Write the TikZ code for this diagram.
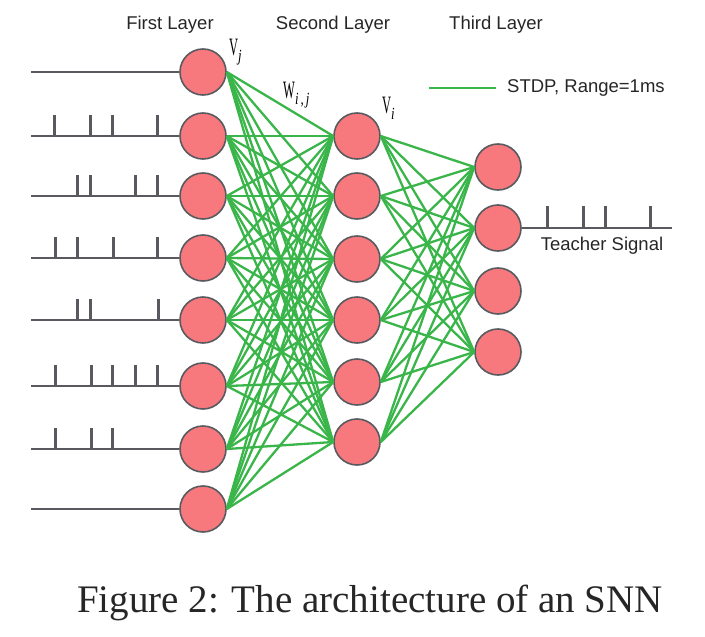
\documentclass[tikz,border=0pt]{standalone}
\usepackage{fontspec}
\setmainfont{Liberation Serif}
\setsansfont{Liberation Sans}
\usetikzlibrary{positioning}

\definecolor{cellred}{RGB}{247,121,125}
\definecolor{rim}{RGB}{88,90,96}
\definecolor{stdp}{RGB}{57,181,74}

\newcommand{\vlab}[2]{\scalebox{.5}[1]{\fontsize{25}{28}\selectfont #1}\raisebox{-6pt}{\scalebox{.75}[1]{\fontsize{17}{19}\selectfont\itshape #2}}}

\tikzset{
  neuron/.style={circle,draw=rim,fill=cellred,line width=1.6pt,minimum size=46pt,inner sep=0pt},
  syn/.style={stdp,line width=2.3pt},
  train/.style={rim,line width=2.8pt},
  lbl/.style={font=\sffamily\fontsize{18.5}{20}\selectfont,text=black!85,inner sep=1pt}
}

\begin{document}
\begin{tikzpicture}[x=1pt,y=-1pt]
    \useasboundingbox (0,0) rectangle (705,637);
    % neurons
    \foreach \y [count=\i] in {72,136,196,258,320,386,449,509}
        \node[neuron] (a\i) at (203,\y) {};
    \foreach \y [count=\i] in {136,196,259,320,382,442}
        \node[neuron] (b\i) at (357,\y) {};
    \foreach \y [count=\i] in {167,228,291,352}
        \node[neuron] (c\i) at (498,\y) {};
    % synapses
    \foreach \i in {1,...,8}
        \foreach \j in {1,...,6}
            \draw[syn] (a\i.east) -- (b\j.west);
    \foreach \i in {1,...,6}
        \foreach \j in {1,...,4}
            \draw[syn] (b\i.east) -- (c\j.west);
    % input spike trains
    \foreach \i in {1,...,8}
        \draw[train] (a\i.west) -- ++(-148,0) coordinate (s\i);
    \foreach \i/\ts in {2/{23,59,81,126},3/{46,59,104,126},4/{24,46,82,126},
                        5/{46,59,127},6/{24,60,81,104,126},7/{24,60,81}}
        \foreach \t in \ts
            \draw[train] (s\i) ++(\t,0) -- ++(0,-21);
    % teacher signal
    \draw[train] (c2.east) -- ++(150,0) coordinate (t);
    \foreach \t in {26,62,84,129}
        \draw[train] (c2.east) ++(\t,0) -- ++(0,-22);
    \node[lbl] (teach) at (602,246) {Teacher Signal};
    % titles
    \node[lbl] (l1) at (170,25) {First Layer};
    \node[lbl] (l2) at (333,25) {Second Layer};
    \node[lbl] (l3) at (496,25) {Third Layer};
    % legend
    \coordinate (k1) at (429,88);
    \draw[syn] (k1) -- ++(67,0) coordinate (k2);
    \node[lbl,right=10pt of k2] (key) {STDP, Range=1ms};
    % symbols
    \node[anchor=base west,inner sep=0pt] (vj) at (229,55) {\vlab{V}{j}};
    \node[anchor=base west,inner sep=0pt] (wij) at (283,98) {\vlab{W}{i\,,\,j}};
    \node[anchor=base west,inner sep=0pt] (vi) at (382,113) {\vlab{V}{i}};
    % caption
    \node[anchor=base,inner sep=0pt,font=\fontsize{39}{44}\selectfont,text=black!85] (cap) at (370,612) {Figure 2: The architecture of an SNN};
\end{tikzpicture}
\end{document}
